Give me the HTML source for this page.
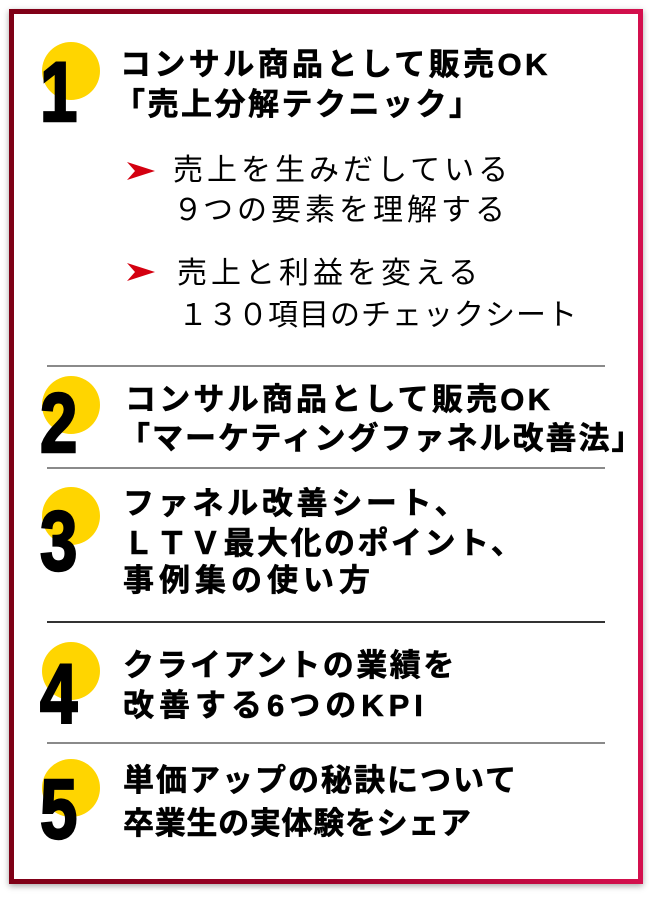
<!DOCTYPE html>
<html><head><meta charset="utf-8"><style>
*{margin:0;padding:0;box-sizing:border-box}
body{width:649px;height:906px;background:#fff;position:relative;overflow:hidden;font-family:"Liberation Sans","Noto Sans CJK JP",sans-serif}
.frame{position:absolute;left:9px;top:9px;width:634px;height:875px;background:linear-gradient(90deg,#7e0016,#a0002a 50%,#d4104e);box-shadow:0 2px 6px rgba(0,0,0,.35)}
.inner{position:absolute;left:5px;top:5px;right:5px;bottom:5px;background:#fff}
.c{position:absolute;width:58px;height:58px;border-radius:50%;background:#ffd500;left:42px}
.d{position:absolute;left:40px;font-family:"Liberation Sans",sans-serif;font-weight:bold;font-size:84px;line-height:1;color:#000;transform:scaleX(0.8);transform-origin:left top;-webkit-text-stroke:2.5px #000}
.t{position:absolute;font-weight:bold;font-size:31px;line-height:40px;color:#000;white-space:nowrap;-webkit-text-stroke:0.6px #000}
.b{position:absolute;font-size:30px;line-height:40px;color:#000;letter-spacing:4px;white-space:nowrap}
.hr{position:absolute;left:47px;width:558px;height:2px;background:#8a8a8a}
.fw{letter-spacing:0}
</style></head><body>
<div class="frame"><div class="inner"></div></div>

<div class="c" style="top:42px"></div><div class="d" style="top:50px">1</div>
<div class="t" style="left:120px;top:45px;letter-spacing:3.4px">コンサル商品として販売OK</div>
<div class="t" style="left:114px;top:85px;letter-spacing:2.5px">「売上分解テクニック」</div>
<svg style="position:absolute;left:0;top:0" width="649" height="906"><polygon points="127,162 155,171 127,180 135,171" fill="#d40010"/><polygon points="127,263 155,272 127,281 135,272" fill="#d40010"/></svg>
<div class="b" style="left:173px;top:151px">売上を生みだしている</div>
<div class="b" style="left:173px;top:191px"><span class="fw">９</span>つの要素を理解する</div>
<div class="b" style="left:177px;top:254px">売上と利益を変える</div>
<div class="b" style="left:178px;top:296px;letter-spacing:1px"><span class="fw">１３０</span>項目のチェックシート</div>
<div class="hr" style="top:365px"></div>

<div class="c" style="top:376px"></div><div class="d" style="top:381px">2</div>
<div class="t" style="left:125px;top:380px;letter-spacing:3.2px">コンサル商品として販売OK</div>
<div class="t" style="left:119px;top:419px;letter-spacing:2px">「マーケティングファネル改善法」</div>
<div class="hr" style="top:467px"></div>

<div class="c" style="top:487px"></div><div class="d" style="top:499px">3</div>
<div class="t" style="left:123px;top:484px;letter-spacing:3.7px">ファネル改善シート、</div>
<div class="t" style="left:123px;top:524px;letter-spacing:2.5px">ＬＴＶ最大化のポイント、</div>
<div class="t" style="left:123px;top:561px;letter-spacing:5px">事例集の使い方</div>
<div class="hr" style="top:621px;background:#333"></div>

<div class="c" style="top:642px"></div><div class="d" style="top:652px">4</div>
<div class="t" style="left:123px;top:646px;letter-spacing:2.5px">クライアントの業績を</div>
<div class="t" style="left:123px;top:686px;letter-spacing:5px">改善する6つのKPI</div>
<div class="hr" style="top:742px"></div>

<div class="c" style="top:759px"></div><div class="d" style="top:767px">5</div>
<div class="t" style="left:123px;top:761px;letter-spacing:2px">単価アップの秘訣について</div>
<div class="t" style="left:123px;top:804px;letter-spacing:0.7px">卒業生の実体験をシェア</div>
</body></html>
